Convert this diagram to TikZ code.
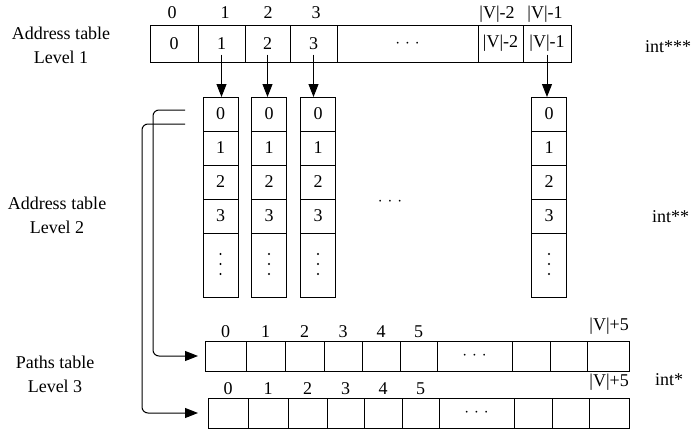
\documentclass[tikz,border=0pt]{standalone}
\usepackage{fontspec}
\setmainfont{Liberation Serif}
\usetikzlibrary{positioning,arrows.meta}

\newcommand{\hdotsx}{$\cdot$\hspace{5pt}$\cdot$\hspace{5pt}$\cdot$}

\tikzset{
  cell/.style={draw, line width=1pt, inner sep=0pt, outer sep=0pt},
  ptr/.style={line width=1pt, -{Triangle[length=13pt,width=10pt]}},
  idx/.style={inner sep=0pt},
}

\begin{document}
\begin{tikzpicture}[x=1pt, y=-1pt, font=\fontsize{18}{24}\selectfont]
\useasboundingbox (0,0) rectangle (691,431);

% level names and pointer types
\node[align=center] (lvone) at (61,45) {Address table\\Level 1};
\node[align=center] (lvtwo) at (57,215) {Address table\\Level 2};
\node[align=center] (lvthree) at (55,374) {Paths table\\Level 3};
\node[anchor=west, inner sep=0pt] (tone) at (645,47) {int***};
\node[anchor=west, inner sep=0pt] (ttwo) at (652,217) {int**};
\node[anchor=west, inner sep=0pt] (tthree) at (655,380) {int*};

% level 1
\foreach \xa/\xb/\t [count=\i from 0] in {150/198/0, 198/245/1, 245/290/2, 290/337/3,
    337/478/\hdotsx, 478/523/{|V|-2}, 523/571/{|V|-1}} {
  \pgfmathsetmacro\w{\xb-\xa}
  \node[cell, minimum width=\w pt, minimum height=37pt] (top\i) at ({(\xa+\xb)/2},43.5) {\t};
}
\foreach \x/\t [count=\i from 0] in {172/0, 225/1, 268/2, 316/3, 497/{|V|-2}, 545/{|V|-1}}
  \node[anchor=base] (topi\i) at (\x,18) {\t};

% level 2
\foreach \cx/\src/\nm in {220.5/1/1, 269/2/2, 318/3/3, 549/6/n} {
  \foreach \r in {0,...,3}
    \node[cell, minimum width=35pt, minimum height=34pt] (col\nm-\r) at (\cx,{114+34*\r}) {\r};
  \node[cell, minimum width=35pt, minimum height=64pt] (col\nm-d) at (\cx,265) {};
  \foreach \k in {-11,-1,9}
    \fill (col\nm-d.center) ++(0,\k) circle (1.1pt);
  \draw[ptr, shorten <=11pt] (top\src.center) -- (top\src.center |- col\nm-0.north);
}
\node (gap) at (390,202) {\hdotsx};

% level 3
\foreach \xa/\xb/\t [count=\i from 0] in {205/246/{}, 246/285/{}, 285/324/{}, 324/362/{},
    362/400/{}, 400/437/{}, 437/512/\hdotsx, 512/550/{}, 550/587/{}, 587/629/{}} {
  \pgfmathsetmacro\w{\xb-\xa}
  \node[cell, minimum width=\w pt, minimum height=30pt] (pa\i) at ({(\xa+\xb)/2},356) {\t};
}
\foreach \xa/\xb/\t [count=\i from 0] in {208/248/{}, 248/288/{}, 288/327/{}, 327/364/{},
    364/402/{}, 402/439/{}, 439/514/\hdotsx, 514/552/{}, 552/589/{}, 589/629/{}} {
  \pgfmathsetmacro\w{\xb-\xa}
  \node[cell, minimum width=\w pt, minimum height=30pt] (pb\i) at ({(\xa+\xb)/2},413) {\t};
}
\foreach \i in {0,...,5} {
  \node[idx, above=3.5pt of pa\i] (pai\i) {\i};
  \node[idx, above=3pt of pb\i] (pbi\i) {\i};
}
\node[idx, anchor=south east, yshift=6pt] (pain) at (pa9.north east) {|V|+5};
\node[idx, anchor=south east, yshift=7pt] (pbin) at (pb9.north east) {|V|+5};

% pointers into the paths table
\coordinate (sa) at (185,110);
\coordinate (sb) at (185,124);
\draw[ptr, rounded corners=6pt, shorten >=7pt] (sa) -- ++(-32,0) |- (pa0.west);
\draw[ptr, rounded corners=6pt, shorten >=10pt] (sb) -- ++(-43,0) |- (pb0.west);
\end{tikzpicture}
\end{document}
